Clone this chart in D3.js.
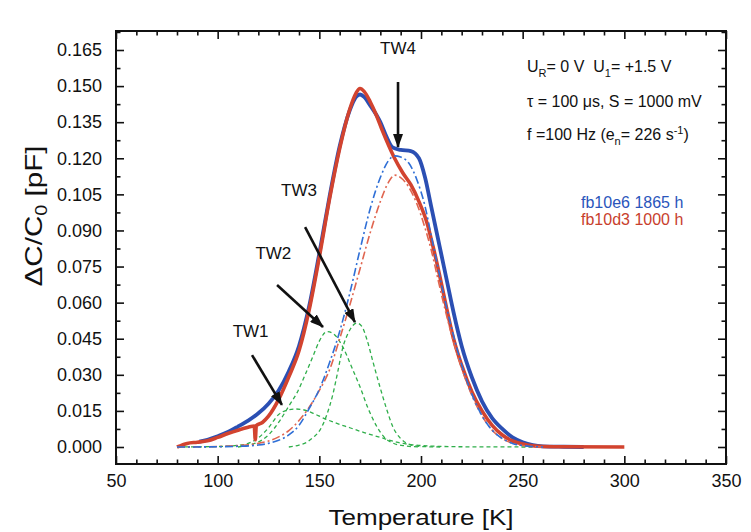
<!DOCTYPE html>
<html>
<head>
<meta charset="utf-8">
<script src="https://cdn.jsdelivr.net/npm/d3@7"></script>
<style>
  body { margin: 0; background: #fff; }
  svg { font-family: "Liberation Sans", Arial, sans-serif; }
  .tick text { font-size: 18px; fill: #111; }
  .ann { font-size: 16px; fill: #111; white-space: pre; }
</style>
</head>
<body>
<svg id="chart" width="751" height="532"></svg>
<script>
// measured DLTS spectra  [T (K), dC/C0 (pF)]
var blueMeas = [[91,0.0022],[95,0.0030],[100,0.0045],[105,0.0062],[110,0.0085],[115,0.0110],[120,0.0140],[125,0.0180],[130,0.0235],[135,0.0315],[140,0.0420],[145,0.0585],[150,0.0805],[155,0.1040],[160,0.1250],[165,0.1400],[168,0.1455],[170,0.1465],[172,0.1455],[175,0.1420],[180,0.1350],[183,0.1290],[186,0.1245],[190,0.1235],[195,0.1230],[199,0.1200],[202,0.1120],[205,0.1000],[208,0.0880],[210,0.0800],[213,0.0680],[216,0.0560],[220,0.0420],[225,0.0290],[230,0.0190],[235,0.0120],[240,0.0075],[245,0.0040],[250,0.0020],[255,0.0008],[260,0.0003],[270,0.0001],[280,0]];
var redMeas = [[80,0],[85,0.0015],[90,0.0020],[95,0.0026],[100,0.0040],[105,0.0056],[110,0.0070],[115,0.0082],[118,0.0087],[118.5,0.0030],[119,0.0089],[122,0.0102],[125,0.0128],[130,0.0198],[135,0.0292],[140,0.0400],[145,0.0570],[150,0.0790],[155,0.1030],[160,0.1240],[165,0.1405],[168,0.1470],[170,0.1490],[172,0.1478],[175,0.1435],[178,0.1380],[181,0.1315],[184,0.1255],[187,0.1200],[191,0.1140],[195,0.1090],[199,0.1020],[203,0.0930],[206,0.0830],[209,0.0720],[212,0.0600],[216,0.0450],[220,0.0340],[225,0.0230],[230,0.0150],[235,0.0090],[240,0.0050],[245,0.0025],[250,0.0012],[255,0.0005],[260,0.0002],[270,0.0001],[300,0]];

// fitted TW4 peaks (dash-dot)
var blueFit = [[80,0],[100,0.0001],[110,0.0003],[120,0.0008],[125,0.0015],[130,0.0028],[135,0.0050],[140,0.0090],[145,0.0160],[150,0.0240],[155,0.0350],[160,0.0480],[165,0.0640],[170,0.0820],[175,0.0990],[180,0.1120],[184,0.1190],[187,0.1210],[190,0.1205],[194,0.1180],[198,0.1110],[202,0.1000],[205,0.0880],[208,0.0760],[211,0.0640],[214,0.0530],[218,0.0400],[222,0.0290],[226,0.0200],[230,0.0130],[235,0.0070],[240,0.0035],[245,0.0015],[250,0.0006],[255,0.0002],[260,0]];
var redFit = [[80,0],[100,0.0002],[110,0.0006],[120,0.0015],[125,0.0025],[130,0.0042],[135,0.0068],[140,0.0110],[145,0.0165],[150,0.0235],[155,0.0320],[160,0.0450],[165,0.0590],[170,0.0740],[175,0.0890],[180,0.1020],[184,0.1100],[187,0.1130],[190,0.1120],[194,0.1080],[198,0.1010],[202,0.0910],[205,0.0820],[208,0.0710],[211,0.0600],[214,0.0500],[218,0.0380],[222,0.0280],[226,0.0195],[230,0.0130],[235,0.0070],[240,0.0035],[245,0.0015],[250,0.0006],[260,0]];

// fitted TW1..TW3 (green dashed)
var tw1 = [[80,0],[100,0.0002],[110,0.0007],[115,0.0015],[120,0.0038],[125,0.0080],[130,0.0135],[134,0.0153],[138,0.0158],[142,0.0155],[147,0.0140],[152,0.0120],[158,0.0100],[165,0.0080],[172,0.0060],[180,0.0040],[188,0.0020],[195,0.0010],[205,0.0004],[220,0.0001],[255,0]];
var tw2 = [[110,0],[115,0.0008],[119,0.0017],[125,0.0050],[130.6,0.0110],[135,0.0170],[139,0.0225],[143,0.0300],[147,0.0380],[150,0.0440],[153.8,0.0480],[157,0.0470],[161.6,0.0415],[166,0.0330],[170,0.0250],[174,0.0160],[178.4,0.0083],[182,0.0040],[186,0.0017],[192,0.0005],[200,0]];
var tw3 = [[135,0],[140,0.0008],[143.9,0.0020],[147,0.0040],[150.3,0.0070],[153.5,0.0130],[156.8,0.0224],[159,0.0310],[161.6,0.0415],[164,0.0470],[166.5,0.0505],[168.5,0.0515],[171,0.0500],[173.5,0.0444],[176.5,0.0350],[179.8,0.0250],[183,0.0160],[186.2,0.0083],[190,0.0035],[194.6,0.0010],[200,0.0002],[210,0]];

var xTicks = [50, 100, 150, 200, 250, 300, 350];
var yTicks = [0, 0.015, 0.030, 0.045, 0.060, 0.075, 0.090, 0.105, 0.120, 0.135, 0.150, 0.165];

// arrows: label, label anchor [T,V], arrow from [T,V] to [T,V]
var twNames = ["TW1", "TW2", "TW3", "TW4"];
var twLabelAt = [[116.2,0.0389], [127.4,0.0713], [140,0.0977], [188.7,0.1567]];
var twFrom = [[116.9,0.0382], [129.2,0.0673], [143,0.0914], [188.7,0.1517]];
var twTo = [[131.6,0.0175], [151.8,0.0499], [167.5,0.0519], [188.7,0.1247]];

var legendNames = ["fb10e6 1865 h", "fb10d3 1000 h"];
var blue = "#2b4fb3", red = "#d2432f", blueLt = "#2f6fd6", redLt = "#e0654f", green = "#2fae4a";

var svg = d3.select("#chart");
var x = d3.scaleLinear().domain([50, 350]).range([116, 726]);
var y = d3.scaleLinear().domain([0, 0.165]).range([447, 50]);
var yBot = y.invert(464), yTop = y.invert(31);

var xMinor = d3.range(60, 350, 10).filter(function(d){ return d % 50 !== 0; });
var yMinor = yTicks.map(function(d){ return d + 0.0075; }).filter(function(d){ return d < yTop; });

function addAxis(ax, tr, cls) {
  var g = svg.append("g").attr("class", cls).attr("transform", tr).call(ax);
  g.select(".domain").remove();
  g.selectAll("line").attr("stroke", "#111").attr("stroke-width", 1.6);
  return g;
}

addAxis(d3.axisBottom(x).tickValues(xTicks).tickSize(-8).tickPadding(10).tickFormat(d3.format("d")), "translate(0,464)", "xaxis");
addAxis(d3.axisBottom(x).tickValues(xMinor).tickSize(-4.5).tickFormat(""), "translate(0,464)", "xminor");
addAxis(d3.axisTop(x).tickValues(xTicks).tickSize(-8).tickFormat(""), "translate(0,31)", "xtop");
addAxis(d3.axisTop(x).tickValues(xMinor).tickSize(-4.5).tickFormat(""), "translate(0,31)", "xtopminor");
addAxis(d3.axisLeft(y).tickValues(yTicks).tickSize(-8).tickPadding(14).tickFormat(d3.format(".3f")), "translate(116,0)", "yaxis");
addAxis(d3.axisLeft(y).tickValues(yMinor).tickSize(-4.5).tickFormat(""), "translate(116,0)", "yminor");
addAxis(d3.axisRight(y).tickValues(yTicks).tickSize(-8).tickFormat(""), "translate(726,0)", "yright");
addAxis(d3.axisRight(y).tickValues(yMinor).tickSize(-4.5).tickFormat(""), "translate(726,0)", "yrightminor");

svg.selectAll(".tick text").attr("font-family", null).attr("font-size", null);

// frame
svg.append("rect").attr("x", x(50)).attr("y", y(yTop)).attr("width", x(350) - x(50)).attr("height", y(yBot) - y(yTop))
  .attr("fill", "none").attr("stroke", "#111").attr("stroke-width", 2);

var line = d3.line().x(function(d){ return x(d[0]); }).y(function(d){ return y(d[1]); }).curve(d3.curveMonotoneX);

[tw1, tw2, tw3].forEach(function(s){
  svg.append("path").attr("d", line(s)).attr("fill", "none").attr("stroke", green)
    .attr("stroke-width", 1.3).attr("stroke-dasharray", "4,3");
});
svg.append("path").attr("d", line(blueMeas)).attr("fill", "none").attr("stroke", blue).attr("stroke-width", 3.8).attr("stroke-linejoin", "round");
svg.append("path").attr("d", line(redMeas)).attr("fill", "none").attr("stroke", red).attr("stroke-width", 3.6).attr("stroke-linejoin", "round");
svg.append("path").attr("d", line(redFit)).attr("fill", "none").attr("stroke", redLt).attr("stroke-width", 1.6).attr("stroke-dasharray", "8,3,2,3");
svg.append("path").attr("d", line(blueFit)).attr("fill", "none").attr("stroke", blueLt).attr("stroke-width", 1.6).attr("stroke-dasharray", "8,3,2,3");

// arrows
svg.append("defs").append("marker").attr("id", "head").attr("markerUnits", "userSpaceOnUse")
  .attr("viewBox", "0 0 14 10").attr("refX", 13).attr("refY", 5).attr("markerWidth", 14).attr("markerHeight", 10)
  .attr("orient", "auto").append("path").attr("d", "M0,0 L14,5 L0,10 Z").attr("fill", "#111");

twNames.forEach(function(n, i){
  svg.append("line").attr("x1", x(twFrom[i][0])).attr("y1", y(twFrom[i][1]))
    .attr("x2", x(twTo[i][0])).attr("y2", y(twTo[i][1]))
    .attr("stroke", "#111").attr("stroke-width", 2.6).attr("marker-end", "url(#head)");
  svg.append("text").attr("x", x(twLabelAt[i][0])).attr("y", y(twLabelAt[i][1]) - 16)
    .attr("text-anchor", "middle").attr("font-size", 17).attr("fill", "#111").text(n);
});

// conditions
var a1 = svg.append("text").attr("class", "ann").attr("x", 527).attr("y", 72);
a1.append("tspan").text("U");
a1.append("tspan").attr("font-size", 11).attr("dy", 5).text("R");
a1.append("tspan").attr("dy", -5).text("= 0 V  U");
a1.append("tspan").attr("font-size", 11).attr("dy", 5).text("1");
a1.append("tspan").attr("dy", -5).text("= +1.5 V");
svg.append("text").attr("class", "ann").attr("x", 527).attr("y", 107).text("\u03c4 = 100 \u03bcs, S = 1000 mV");
var a3 = svg.append("text").attr("class", "ann").attr("x", 527).attr("y", 140);
a3.append("tspan").text("f =100 Hz (e");
a3.append("tspan").attr("font-size", 11).attr("dy", 5).text("n");
a3.append("tspan").attr("dy", -5).text("= 226 s");
a3.append("tspan").attr("font-size", 11).attr("dy", -6).text("-1");
a3.append("tspan").attr("dy", 6).text(")");

// legend
svg.selectAll(".leg").data(legendNames).enter().append("text").attr("class", "leg")
  .attr("x", 581).attr("y", function(d, i){ return 208 + i * 17; })
  .attr("font-size", 16).attr("fill", function(d, i){ return i === 0 ? "#2a55bb" : "#c8402d"; })
  .text(function(d){ return d; });

// axis titles
svg.append("text").attr("x", 421).attr("y", 525).attr("text-anchor", "middle").attr("font-size", 22)
  .attr("textLength", 185).attr("lengthAdjust", "spacingAndGlyphs").attr("fill", "#111").text("Temperature [K]");
var yt = svg.append("text").attr("transform", "translate(42,216) rotate(-90)").attr("text-anchor", "middle")
  .attr("font-size", 24).attr("fill", "#111").attr("textLength", 141).attr("lengthAdjust", "spacingAndGlyphs");
yt.append("tspan").text("\u0394C/C");
yt.append("tspan").attr("font-size", 16).attr("dy", 5).text("0");
yt.append("tspan").attr("dy", -5).text(" [pF]");
</script>
</body>
</html>
